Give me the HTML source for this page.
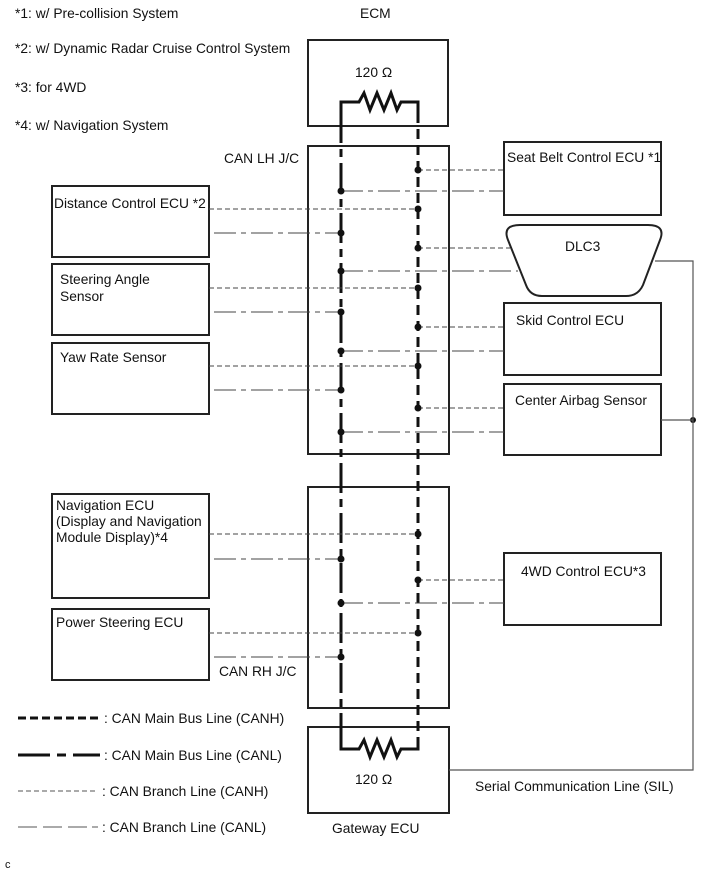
<!DOCTYPE html>
<html><head><meta charset="utf-8"><style>
html,body{margin:0;padding:0;background:#fff}
svg{display:block}
text{font-family:"Liberation Sans",sans-serif;font-size:13.8px;fill:#111}
</style></head><body>
<svg width="713" height="882" viewBox="0 0 713 882" xmlns="http://www.w3.org/2000/svg">
<g fill="none" stroke="#222" stroke-width="2">
<rect x="308" y="40" width="140" height="86"/>
<rect x="308" y="146" width="141" height="308"/>
<rect x="308" y="487" width="141" height="221"/>
<rect x="308" y="727" width="141" height="86"/>
<rect x="52" y="186" width="157" height="71"/>
<rect x="52" y="264" width="157" height="71"/>
<rect x="52" y="343" width="157" height="71"/>
<rect x="52" y="494" width="157" height="104"/>
<rect x="52" y="609" width="157" height="71"/>
<rect x="504" y="142" width="157" height="73"/>
<rect x="504" y="303" width="157" height="72"/>
<rect x="504" y="384" width="157" height="71"/>
<rect x="504" y="553" width="157" height="72"/>
<path d="M520,225 L648,225 Q666,225 660,240 L643,285 Q638,296 626,296 L542,296 Q530,296 526,285 L508,240 Q502,225 520,225 Z"/>
</g>
<g fill="none" stroke="#111" stroke-width="3">
<path d="M341,113 L341,102 L359,102 L364,93 L370,110 L377,93 L384,110 L391,93 L397,110 L401,102 L418,102 L418,113"/>
<path d="M341,738 L341,749 L359,749 L364,740 L370,757 L377,740 L384,757 L391,740 L397,757 L401,749 L418,749 L418,738"/>
</g>
<line x1="341" y1="113" x2="341" y2="738" stroke="#111" stroke-width="3" stroke-dasharray="30,6,8,6"/>
<line x1="418" y1="113" x2="418" y2="738" stroke="#111" stroke-width="3" stroke-dasharray="10,6"/>
<g stroke="#444" stroke-width="1" stroke-dasharray="5,3">
<line x1="209" y1="209" x2="418" y2="209"/>
<line x1="209" y1="288" x2="418" y2="288"/>
<line x1="209" y1="366" x2="418" y2="366"/>
<line x1="209" y1="534" x2="418" y2="534"/>
<line x1="209" y1="633" x2="418" y2="633"/>
<line x1="418" y1="170" x2="504" y2="170"/>
<line x1="418" y1="248" x2="510" y2="248"/>
<line x1="418" y1="327" x2="504" y2="327"/>
<line x1="418" y1="408" x2="504" y2="408"/>
<line x1="418" y1="580" x2="504" y2="580"/>
</g>
<g stroke="#444" stroke-width="1" stroke-dasharray="22,5,5,5">
<line x1="214" y1="233" x2="341" y2="233"/>
<line x1="214" y1="312" x2="341" y2="312"/>
<line x1="214" y1="390" x2="341" y2="390"/>
<line x1="214" y1="559" x2="341" y2="559"/>
<line x1="214" y1="657" x2="341" y2="657"/>
<line x1="341" y1="191" x2="504" y2="191"/>
<line x1="341" y1="271" x2="518" y2="271"/>
<line x1="341" y1="351" x2="504" y2="351"/>
<line x1="341" y1="432" x2="504" y2="432"/>
<line x1="341" y1="603" x2="504" y2="603"/>
</g>
<g fill="#111">
<circle cx="418" cy="209" r="3.5"/><circle cx="418" cy="288" r="3.5"/><circle cx="418" cy="366" r="3.5"/><circle cx="418" cy="534" r="3.5"/><circle cx="418" cy="633" r="3.5"/>
<circle cx="418" cy="170" r="3.5"/><circle cx="418" cy="248" r="3.5"/><circle cx="418" cy="327" r="3.5"/><circle cx="418" cy="408" r="3.5"/><circle cx="418" cy="580" r="3.5"/>
<circle cx="341" cy="233" r="3.5"/><circle cx="341" cy="312" r="3.5"/><circle cx="341" cy="390" r="3.5"/><circle cx="341" cy="559" r="3.5"/><circle cx="341" cy="657" r="3.5"/>
<circle cx="341" cy="191" r="3.5"/><circle cx="341" cy="271" r="3.5"/><circle cx="341" cy="351" r="3.5"/><circle cx="341" cy="432" r="3.5"/><circle cx="341" cy="603" r="3.5"/>
<circle cx="693" cy="420" r="3"/>
</g>
<g fill="none" stroke="#555" stroke-width="1.2">
<path d="M655,261 L693,261 L693,770 L449,770"/>
<line x1="661" y1="420" x2="693" y2="420"/>
</g>
<line x1="18" y1="718" x2="100" y2="718" stroke="#111" stroke-width="3" stroke-dasharray="8,4"/>
<path d="M18,755 L50,755 M57,755 L66,755 M73,755 L100,755" stroke="#111" stroke-width="3"/>
<line x1="18" y1="791" x2="98" y2="791" stroke="#555" stroke-width="1" stroke-dasharray="5,3"/>
<path d="M18,827 L37,827 M43,827 L62,827 M68,827 L87,827 M92,827 L98,827" stroke="#555" stroke-width="1"/>
<text x="104" y="723">: CAN Main Bus Line (CANH)</text>
<text x="104" y="760">: CAN Main Bus Line (CANL)</text>
<text x="102" y="796">: CAN Branch Line (CANH)</text>
<text x="102" y="832">: CAN Branch Line (CANL)</text>
<text x="15" y="18">*1: w/ Pre-collision System</text>
<text x="15" y="53">*2: w/ Dynamic Radar Cruise Control System</text>
<text x="15" y="92">*3: for 4WD</text>
<text x="15" y="130">*4: w/ Navigation System</text>
<text x="360" y="18">ECM</text>
<text x="355" y="77">120 Ω</text>
<text x="355" y="784">120 Ω</text>
<text x="332" y="833">Gateway ECU</text>
<text x="224" y="163">CAN LH J/C</text>
<text x="219" y="676">CAN RH J/C</text>
<text x="54" y="208">Distance Control ECU *2</text>
<text x="60" y="284">Steering Angle</text>
<text x="60" y="301">Sensor</text>
<text x="60" y="362">Yaw Rate Sensor</text>
<text x="56" y="510">Navigation ECU</text>
<text x="56" y="526">(Display and Navigation</text>
<text x="56" y="542">Module Display)*4</text>
<text x="56" y="627">Power Steering ECU</text>
<text x="507" y="162">Seat Belt Control ECU *1</text>
<text x="565" y="251">DLC3</text>
<text x="516" y="325">Skid Control ECU</text>
<text x="515" y="405">Center Airbag Sensor</text>
<text x="521" y="576">4WD Control ECU*3</text>
<text x="475" y="791">Serial Communication Line (SIL)</text>
<text x="5" y="868" style="font-size:11px">c</text>
</svg>
</body></html>
